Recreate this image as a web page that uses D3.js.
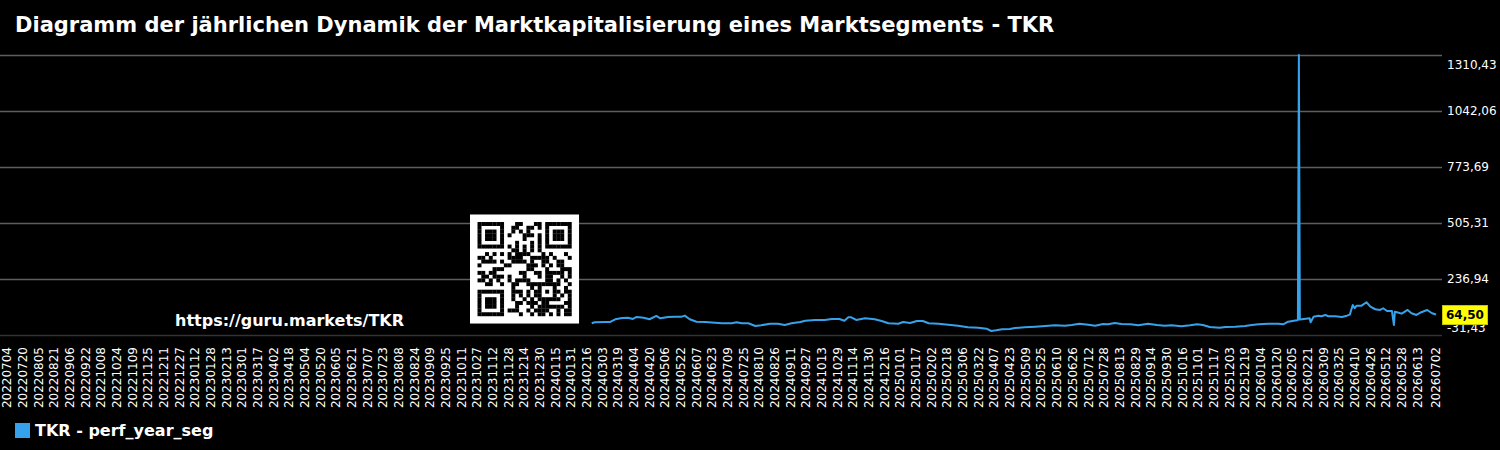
<!DOCTYPE html>
<html><head><meta charset="utf-8">
<script src="https://cdn.jsdelivr.net/npm/d3@7"></script>
<style>html,body{margin:0;padding:0;background:#000;}svg{display:block;}</style>
</head><body>
<script>
const chartTitle = "Diagramm der jährlichen Dynamik der Marktkapitalisierung eines Marktsegments - TKR";
const seriesName = "TKR - perf_year_seg";
const watermark = "https://guru.markets/TKR";
const lastLabel = "64,50";

const dates = [
"2024-02-21","2024-02-24","2024-03-06","2024-03-11","2024-03-16","2024-03-23","2024-03-29","2024-04-03","2024-04-07","2024-04-14",
"2024-04-20","2024-04-27","2024-05-01","2024-05-09","2024-05-16","2024-05-23","2024-05-26","2024-05-31","2024-06-07","2024-06-16",
"2024-06-26","2024-07-03","2024-07-13","2024-07-18","2024-07-23","2024-07-30","2024-08-06","2024-08-12","2024-08-21","2024-08-29",
"2024-09-05","2024-09-12","2024-09-21","2024-09-26","2024-10-06","2024-10-16","2024-10-23","2024-10-31","2024-11-05","2024-11-09",
"2024-11-12","2024-11-17","2024-11-26","2024-12-06","2024-12-13","2024-12-20","2024-12-30","2025-01-04","2025-01-11","2025-01-18",
"2025-01-24","2025-01-30","2025-02-09","2025-02-19","2025-03-01","2025-03-11","2025-03-22","2025-03-30","2025-04-04","2025-04-09",
"2025-04-15","2025-04-23","2025-04-28","2025-05-08","2025-05-19","2025-05-29","2025-06-08","2025-06-18","2025-06-25","2025-07-03",
"2025-07-12","2025-07-19","2025-07-27","2025-08-01","2025-08-08","2025-08-15","2025-08-24","2025-09-01","2025-09-11","2025-09-20",
"2025-09-28","2025-10-05","2025-10-15","2025-10-24","2025-10-31","2025-11-06","2025-11-13","2025-11-23","2025-11-29","2025-12-09",
"2025-12-19","2025-12-26","2026-01-02","2026-01-12","2026-01-22","2026-01-27","2026-02-01","2026-02-10","2026-02-11","2026-02-12",
"2026-02-13","2026-02-15","2026-02-23","2026-02-24","2026-02-27","2026-03-04","2026-03-07","2026-03-11","2026-03-14","2026-03-21",
"2026-03-28","2026-04-02","2026-04-05","2026-04-08","2026-04-10","2026-04-12","2026-04-17","2026-04-22","2026-04-26","2026-05-01",
"2026-05-06","2026-05-09","2026-05-13","2026-05-18","2026-05-20","2026-05-21","2026-05-23","2026-05-28","2026-06-03","2026-06-07",
"2026-06-12","2026-06-17","2026-06-23","2026-06-28","2026-07-02"
];
const values = [
22.4,27.3,28.7,28.7,41.7,48.0,49.4,43.1,52.7,49.4,
41.7,57.6,46.5,52.7,54.2,54.2,59.0,41.7,30.1,28.7,
25.3,22.4,22.4,27.3,22.4,22.4,9.5,12.8,20.5,20.5,
14.3,22.4,28.7,34.9,38.3,38.3,43.1,43.1,34.9,51.3,
51.3,38.3,46.5,41.7,33.5,22.4,20.5,28.7,23.9,33.5,
33.5,22.4,20.5,15.7,10.9,3.2,1.3,-3.5,-14.6,-11.2,
-6.4,-5.0,-0.2,3.2,6.1,9.5,12.8,10.9,14.3,20.5,
15.7,10.9,19.1,17.6,23.9,19.1,17.6,12.8,20.5,14.3,
10.9,12.8,8.0,12.8,17.6,14.3,4.6,1.3,4.6,6.1,
9.5,14.3,17.6,20.5,20.5,17.6,30.1,36.9,38.0,1310.43,
40.0,41.7,46.5,27.3,54.2,59.0,56.1,62.4,56.1,56.1,
52.7,59.0,63.8,110.5,94.6,107.1,107.1,123.5,102.3,89.8,
86.4,94.6,81.6,81.6,14.3,78.0,75.4,68.6,86.4,70.5,
62.4,75.4,86.4,70.5,64.5
];

const yTickValues = [-31.43, 236.94, 505.31, 773.69, 1042.06, 1310.43];
const yTickLabels = ["-31,43", "236,94", "505,31", "773,69", "1042,06", "1310,43"];

const xTickLabels = [
"20220704","20220720","20220805","20220821","20220906","20220922","20221008","20221024","20221109","20221125",
"20221211","20221227","20230112","20230128","20230213","20230301","20230317","20230402","20230418","20230504",
"20230520","20230605","20230621","20230707","20230723","20230808","20230824","20230909","20230925","20231011",
"20231027","20231112","20231128","20231214","20231230","20240115","20240131","20240216","20240303","20240319",
"20240404","20240420","20240506","20240522","20240607","20240623","20240709","20240725","20240810","20240826",
"20240911","20240927","20241013","20241029","20241114","20241130","20241216","20250101","20250117","20250202",
"20250218","20250306","20250322","20250407","20250423","20250509","20250525","20250610","20250626","20250712",
"20250728","20250813","20250829","20250914","20250930","20251016","20251101","20251117","20251203","20251219",
"20260104","20260120","20260205","20260221","20260309","20260325","20260410","20260426","20260512","20260528",
"20260613","20260702"
];

const W = 1500, H = 450;
const font = "'DejaVu Sans', sans-serif";
const lineColor = "#36a2eb";

const svg = d3.select("body").append("svg").attr("width", W).attr("height", H)
  .style("background", "#000");

const parseISO = d3.utcParse("%Y-%m-%d");
const parseTick = d3.utcParse("%Y%m%d");

const x = d3.scaleUtc()
  .domain([parseTick(xTickLabels[0]), parseTick(xTickLabels[xTickLabels.length - 1])])
  .range([7, 1436]);
const y = d3.scaleLinear().domain([-31.43, 1310.43]).range([334.5, 55]);

// title
svg.append("text").attr("x", 15).attr("y", 32)
  .attr("fill", "#fff").attr("font-family", font).attr("font-weight", "bold")
  .attr("font-size", 21).text(chartTitle);

// gridlines
svg.append("g").selectAll("line").data(yTickValues).join("line")
  .attr("x1", 0).attr("x2", 1442)
  .attr("y1", d => Math.round(y(d)) + 0.5).attr("y2", d => Math.round(y(d)) + 0.5)
  .attr("stroke", (d, i) => i === 0 ? "#333" : "#5e5e5e").attr("stroke-width", 1.5);

// y labels
svg.append("g").selectAll("text").data(yTickValues).join("text")
  .attr("x", 1447)
  .attr("y", (d, i) => i === yTickValues.length - 1 ? y(d) + 10 : (i === 0 ? y(d) - 7 : y(d)))
  .attr("dy", "0.35em")
  .attr("fill", "#fff").attr("font-family", font).attr("font-size", 12)
  .text((d, i) => yTickLabels[i]);

// x labels
svg.append("g").selectAll("text").data(xTickLabels).join("text")
  .attr("transform", d => `translate(${x(parseTick(d))},347) rotate(-90)`)
  .attr("text-anchor", "end").attr("dy", "0.35em")
  .attr("fill", "#fff").attr("font-family", font).attr("font-size", 12)
  .text(d => d);

// watermark text
svg.append("text").attr("x", 175).attr("y", 326)
  .attr("fill", "#fff").attr("font-family", font).attr("font-weight", "bold")
  .attr("font-size", 16).text(watermark);

// QR-like decoration
(function drawQR() {
  const N = 25, m = 3.76, ox = 470, oy = 214.5, q = 2;
  const g = svg.append("g");
  g.append("rect").attr("x", ox).attr("y", oy).attr("width", (N + 2 * q) * m).attr("height", (N + 2 * q) * m).attr("fill", "#fff");
  const mods = [];
  const isFinder = (r, c) => (r < 8 && c < 8) || (r < 8 && c >= N - 8) || (r >= N - 8 && c < 8);
  function finderVal(r, c) {
    let rr = r, cc = c;
    if (c >= N - 8) cc = c - (N - 7);
    if (r >= N - 8) rr = r - (N - 7);
    if (rr < 0 || cc < 0 || rr > 6 || cc > 6) return 0;
    if (rr === 0 || rr === 6 || cc === 0 || cc === 6) return 1;
    if (rr >= 2 && rr <= 4 && cc >= 2 && cc <= 4) return 1;
    return 0;
  }
  let s = 12345;
  for (let r = 0; r < N; r++) for (let c = 0; c < N; c++) {
    let v;
    if (isFinder(r, c)) v = finderVal(r, c);
    else if (r >= 16 && r <= 20 && c >= 16 && c <= 20) {
      const rr = r - 16, cc = c - 16;
      v = (rr === 0 || rr === 4 || cc === 0 || cc === 4 || (rr === 2 && cc === 2)) ? 1 : 0;
    } else if (r === 6) v = c % 2 === 0 ? 1 : 0;
    else if (c === 6) v = r % 2 === 0 ? 1 : 0;
    else { s = (s * 1103515245 + 12345) & 0x7fffffff; v = ((s >> 16) & 1); }
    if (v) mods.push([r, c]);
  }
  g.selectAll("rect.m").data(mods).join("rect").attr("class", "m")
    .attr("x", d => ox + (d[1] + q) * m).attr("y", d => oy + (d[0] + q) * m)
    .attr("width", m + 0.2).attr("height", m + 0.2).attr("fill", "#000");
})();

// line
const pts = dates.map((d, i) => ({ t: parseISO(d), v: values[i] }));
svg.append("path").datum(pts)
  .attr("fill", "none").attr("stroke", lineColor).attr("stroke-width", 2)
  .attr("stroke-linejoin", "round")
  .attr("d", d3.line().x(d => x(d.t)).y(d => y(d.v)));

// last value label
const last = pts[pts.length - 1];
const ly = y(last.v);
svg.append("rect").attr("x", 1442.5).attr("y", ly - 9).attr("width", 45).attr("height", 19)
  .attr("fill", "#ffff00").attr("stroke", "#c8c800").attr("stroke-width", 1);
svg.append("text").attr("x", 1465).attr("y", ly + 0.5).attr("dy", "0.35em")
  .attr("text-anchor", "middle").attr("fill", "#000").attr("font-family", font)
  .attr("font-weight", "bold").attr("font-size", 12).text(lastLabel);

// legend
svg.append("rect").attr("x", 15).attr("y", 423).attr("width", 15).attr("height", 15).attr("fill", lineColor);
svg.append("text").attr("x", 35).attr("y", 436)
  .attr("fill", "#fff").attr("font-family", font).attr("font-weight", "bold")
  .attr("font-size", 16).text(seriesName);
</script>
</body></html>
